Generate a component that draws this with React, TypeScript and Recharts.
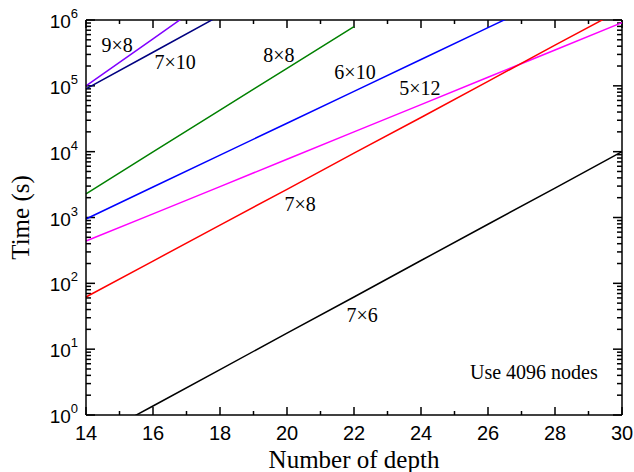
import React from 'react';
import { LineChart, Line, XAxis, YAxis, ReferenceDot, ReferenceLine, Label } from 'recharts';

document.body.style.margin = '0';

// depth values and times (s)
const depths = [14, 16, 18, 20, 22, 24, 26, 28, 30];
const t9x8 = [100000, 518000, 2700000, null, null, null, null, null, null];
const t7x10 = [90000, 324000, 1170000, null, null, null, null, null, null];
const t8x8 = [2290, 9890, 42700, 184000, 794000, null, null, null, null];
const t6x10 = [950, 2910, 8870, 27000, 82400, 251000, 766000, 2330000, null];
const t5x12 = [440, 1135, 2950, 7670, 20000, 51900, 135000, 351000, 912000];
const t7x8 = [62, 218, 765, 2680, 9500, 33000, 117000, 415000, 1450000];
const t7x6 = [0.386, 1.37, 4.9, 17.5, 62, 222, 790, 2800, 10000];

const xTicks = [14, 15, 16, 17, 18, 19, 20, 21, 22, 23, 24, 25, 26, 27, 28, 29, 30];
const decades = [1, 10, 100, 1000, 10000, 100000, 1000000];
const yTicks: number[] = [];
decades.forEach((d, i) => {
  yTicks.push(d);
  if (i < decades.length - 1) for (let k = 2; k <= 9; k++) yTicks.push(d * k);
});

const series = [
  { key: 't9x8', name: '9×8', values: t9x8, color: '#8000ff' },
  { key: 't7x10', name: '7×10', values: t7x10, color: '#000080' },
  { key: 't8x8', name: '8×8', values: t8x8, color: '#008000' },
  { key: 't6x10', name: '6×10', values: t6x10, color: '#0000ff' },
  { key: 't5x12', name: '5×12', values: t5x12, color: '#ff00ff' },
  { key: 't7x8', name: '7×8', values: t7x8, color: '#ff0000' },
  { key: 't7x6', name: '7×6', values: t7x6, color: '#000000' },
];

// label anchors in data coordinates
const notes = [
  { text: '9×8', x: 14.93, y: 420000 },
  { text: '7×10', x: 16.66, y: 232000 },
  { text: '8×8', x: 19.76, y: 295000 },
  { text: '6×10', x: 22.03, y: 163000 },
  { text: '5×12', x: 23.97, y: 93000 },
  { text: '7×8', x: 20.39, y: 1610 },
  { text: '7×6', x: 22.24, y: 33 },
  { text: 'Use 4096 nodes', x: 27.37, y: 4.5 },
];

const data = depths.map((d, i) => {
  const row: any = { depth: d };
  series.forEach((s) => {
    row[s.key] = s.values[i];
  });
  return row;
});

const serif = '"Liberation Serif", "Times New Roman", serif';
const sans = '"Liberation Sans", Arial, sans-serif';

const X_MIN = 14;
const X_MAX = 30;
const Y_MIN = 1;
const Y_MAX = 1000000;
// plot area size in px, to turn tick lengths into data units
const PLOT_W = 536;
const PLOT_H = 395;
const xLen = (px: number) => (px * (X_MAX - X_MIN)) / PLOT_W;
const yFac = (px: number) => Math.pow(10, (px * 6) / PLOT_H);

const isDecade = (v: number) => decades.includes(v);

const BottomTick = (props: any) => {
  const { x, y, payload } = props;
  if (payload.value % 2 !== 0) return <g />;
  return (
    <text x={x} y={y + 25} textAnchor="middle" fontFamily={sans} fontSize={20} fill="#000">
      {payload.value}
    </text>
  );
};

const LeftTick = (props: any) => {
  const { x, y, payload } = props;
  if (!isDecade(payload.value)) return <g />;
  const exp = Math.round(Math.log10(payload.value));
  return (
    <text x={x - 8} y={y + 8} textAnchor="end" fontFamily={sans} fontSize={19} fill="#000">
      <tspan>10</tspan>
      <tspan dy={-10} fontSize={13}>{exp}</tspan>
    </text>
  );
};

const tickStroke = { stroke: '#000', strokeWidth: 1.5 };

export default function App() {
  return (
    <LineChart width={634} height={472} data={data} margin={{ top: 20, right: 12, bottom: 0, left: 0 }}>
      <XAxis
        dataKey="depth"
        type="number"
        domain={[X_MIN, X_MAX]}
        ticks={xTicks}
        interval={0}
        tickSize={0}
        tickMargin={0}
        tickLine={false}
        tick={BottomTick}
        axisLine={{ stroke: '#000', strokeWidth: 1.5 }}
        height={57}
      >
        <Label value="Number of depth" position="insideBottom" offset={0} dy={-4} fill="#000" fontFamily={serif} fontSize={25} />
      </XAxis>
      <YAxis
        scale="log"
        type="number"
        domain={[Y_MIN, Y_MAX]}
        ticks={yTicks}
        interval={0}
        tickSize={0}
        tickMargin={0}
        tickLine={false}
        tick={LeftTick}
        axisLine={{ stroke: '#000', strokeWidth: 1.5 }}
        width={86}
        allowDataOverflow
      >
        <Label value="Time (s)" angle={-90} position="insideLeft" offset={20} fill="#000" fontFamily={serif} fontSize={25} style={{ textAnchor: 'middle' }} />
      </YAxis>

      {/* frame top and right */}
      <ReferenceLine y={Y_MAX} {...tickStroke} ifOverflow="visible" />
      <ReferenceLine x={X_MAX} {...tickStroke} ifOverflow="visible" />

      {/* inward ticks, bottom and top */}
      {xTicks.map((v) => {
        const len = v % 2 === 0 ? 8 : 4;
        return (
          <React.Fragment key={'xt' + v}>
            <ReferenceLine segment={[{ x: v, y: Y_MIN }, { x: v, y: Y_MIN * yFac(len) }]} {...tickStroke} ifOverflow="visible" />
            <ReferenceLine segment={[{ x: v, y: Y_MAX }, { x: v, y: Y_MAX / yFac(len) }]} {...tickStroke} ifOverflow="visible" />
          </React.Fragment>
        );
      })}
      {/* inward ticks, left and right */}
      {yTicks.map((v) => {
        const len = isDecade(v) ? 9 : 5;
        return (
          <React.Fragment key={'yt' + v}>
            <ReferenceLine segment={[{ x: X_MIN, y: v }, { x: X_MIN + xLen(len), y: v }]} {...tickStroke} ifOverflow="visible" />
            <ReferenceLine segment={[{ x: X_MAX, y: v }, { x: X_MAX - xLen(len), y: v }]} {...tickStroke} ifOverflow="visible" />
          </React.Fragment>
        );
      })}

      {series.map((s) => (
        <Line
          key={s.key}
          dataKey={s.key}
          stroke={s.color}
          strokeWidth={1.5}
          dot={false}
          activeDot={false}
          isAnimationActive={false}
        />
      ))}
      {notes.map((n) => (
        <ReferenceDot
          key={n.text}
          x={n.x}
          y={n.y}
          r={0}
          shape={(p: any) => (
            <text x={p.cx} y={p.cy} textAnchor="middle" dominantBaseline="central" fontFamily={serif} fontSize={20} fill="#000">
              {n.text}
            </text>
          )}
        />
      ))}
    </LineChart>
  );
}
